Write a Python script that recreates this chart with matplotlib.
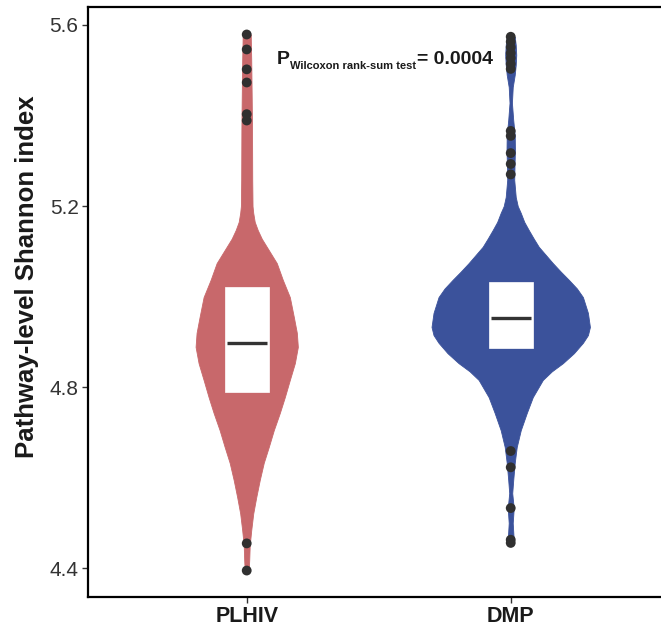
import numpy as np
import matplotlib
matplotlib.use("Agg")
import matplotlib.pyplot as plt
from matplotlib.transforms import offset_copy

plt.rcParams['font.family'] = ['Liberation Sans', 'DejaVu Sans']

# 群とカラー
groups = ["PLHIV", "DMP"]
colors = ["#C8686B", "#3B529B"]

# バイオリンの輪郭（y値と相対密度）を図から読み取り
plhiv_y = [5.579, 5.523, 5.434, 5.368, 5.258, 5.200, 5.185, 5.165, 5.147, 5.128,
           5.110, 5.092, 5.074, 5.037, 4.999, 4.955, 4.920, 4.889, 4.853, 4.816,
           4.778, 4.743, 4.705, 4.668, 4.633, 4.595, 4.557, 4.521, 4.484, 4.451,
           4.418, 4.395]
plhiv_dens = [4, 4.5, 5, 5.3, 5.5, 5.8, 6.5, 8, 11, 15,
              20, 25, 30, 36, 43, 47, 50, 51, 48, 43,
              38, 33, 27, 22, 17, 13, 9.5, 6.5, 4.5, 3,
              2.5, 2]

dmp_y = [5.574, 5.556, 5.534, 5.512, 5.490, 5.463, 5.428, 5.390, 5.357, 5.324,
         5.291, 5.258, 5.220, 5.200, 5.185, 5.165, 5.147, 5.128, 5.110, 5.092,
         5.074, 5.055, 5.037, 5.018, 4.999, 4.964, 4.933, 4.915, 4.898, 4.875,
         4.853, 4.835, 4.816, 4.778, 4.743, 4.705, 4.668, 4.633, 4.595, 4.566,
         4.533, 4.500, 4.462, 4.456]
dmp_dens = [4, 5, 5.5, 5, 4, 2, 1.2, 2.5, 4, 4.2,
            3.8, 3.5, 5, 7, 10, 13.5, 18, 23, 28, 35,
            42, 50, 58, 66, 72, 77, 79, 77, 72, 63,
            52, 41, 32, 22, 16, 10, 6, 4, 2.5, 1.5,
            3, 2, 3, 2.5]

# 箱（四分位）と中央値
q1 = [4.789, 4.886]
q3 = [5.021, 5.032]
medians = [4.897, 4.952]

# 外れ値
plhiv_out = [5.579, 5.546, 5.502, 5.473, 5.403, 5.389, 4.455, 4.395]
dmp_out = [5.574, 5.563, 5.551, 5.538, 5.527, 5.514, 5.503, 5.366, 5.355,
           5.317, 5.293, 5.270, 4.659, 4.623, 4.533, 4.463, 4.456]

p_text = "= 0.0004"

fig = plt.figure(figsize=(6.61, 6.32), dpi=100)
ax = fig.add_axes([0.1336, 0.0559, 0.8787, 0.9323])

profiles = [(plhiv_y, plhiv_dens), (dmp_y, dmp_dens)]
outs = [plhiv_out, dmp_out]
dmax = max(max(plhiv_dens), max(dmp_dens))
half_max = 0.3
box_w = 0.167
med_w = 0.152

for i, (ys, ds) in enumerate(profiles):
    xc = i + 1
    ys = np.array(ys)
    w = np.array(ds) / dmax * half_max
    ax.fill_betweenx(ys, xc - w, xc + w, facecolor=colors[i],
                     edgecolor=colors[i], lw=0.6, zorder=2)
    ax.bar(xc, q3[i] - q1[i], bottom=q1[i], width=box_w, color="white",
           edgecolor="white", lw=0.5, zorder=3)
    ax.plot([xc - med_w / 2, xc + med_w / 2], [medians[i], medians[i]],
            color="#333333", lw=2.4, solid_capstyle="butt", zorder=4)
    ax.scatter(np.full(len(outs[i]), xc), outs[i], s=50, color="#303030",
               edgecolor="none", zorder=5)

ax.set_xlim(0.4, 2.6)
ax.set_ylim(4.3373, 5.6387)
ax.set_xticks([1, 2])
ax.set_xticklabels(groups, fontsize=15.5, fontweight="bold", color="#1a1a1a")
ax.set_yticks([4.4, 4.8, 5.2, 5.6])
ax.set_yticklabels(["4.4", "4.8", "5.2", "5.6"], fontsize=15, color="#333333")
ax.tick_params(axis="both", length=4, width=1, color="#333333", pad=3)
for sp in ax.spines.values():
    sp.set_linewidth(1.6)
    sp.set_color("black")
ax.set_ylabel("Pathway-level Shannon index", fontsize=18.5, fontweight="bold",
              color="#1a1a1a")
ax.yaxis.set_label_coords(-0.085, 0.543)

# P値の注記（下付き文字付き）
renderer = fig.canvas.get_renderer()
t1 = ax.text(1.1125, 5.514, "P", fontsize=14, fontweight="bold",
             color="#1a1a1a", va="baseline", ha="left")
w1 = t1.get_window_extent(renderer).width
t2 = ax.text(1.1125, 5.514, "Wilcoxon rank-sum test", fontsize=8,
             fontweight="bold", color="#1a1a1a", va="baseline", ha="left",
             transform=offset_copy(ax.transData, fig=fig, x=w1 + 1, y=-5.5,
                                   units="dots"))
w2 = t2.get_window_extent(renderer).width
ax.text(1.1125, 5.514, p_text, fontsize=14, fontweight="bold",
        color="#1a1a1a", va="baseline", ha="left",
        transform=offset_copy(ax.transData, fig=fig, x=w1 + w2 + 2, y=0,
                              units="dots"))

fig.savefig("out.png", dpi=100)
